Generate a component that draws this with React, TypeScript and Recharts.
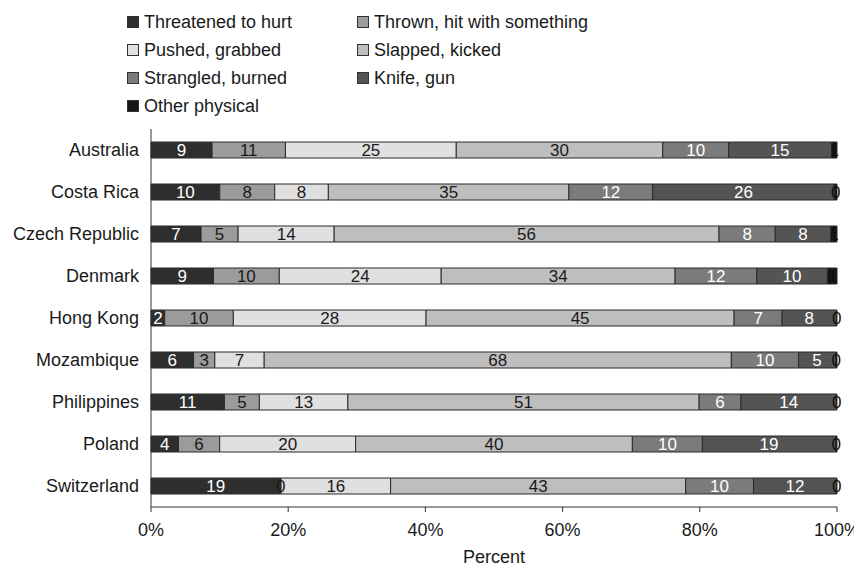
import { BarChart, Bar, XAxis, YAxis, Legend, LabelList } from "recharts";

// Share of each type of physical violence, by country (percent)
const countries = [
  "Australia",
  "Costa Rica",
  "Czech Republic",
  "Denmark",
  "Hong Kong",
  "Mozambique",
  "Philippines",
  "Poland",
  "Switzerland",
];
const threatened = [8.9, 10.0, 7.3, 9.1, 2.0, 6.2, 10.7, 4.0, 18.9];
const thrown = [10.7, 8.0, 5.4, 9.6, 10.0, 3.1, 5.1, 6.0, 0.1];
const pushed = [24.9, 7.8, 14.0, 23.6, 28.1, 7.2, 12.9, 19.8, 16.0];
const slapped = [30.1, 35.0, 56.1, 34.1, 44.9, 68.1, 51.2, 40.3, 43.1];
const strangled = [9.6, 12.2, 8.2, 11.9, 7.0, 9.8, 6.1, 10.2, 9.9];
const knife = [15.0, 26.4, 8.1, 10.3, 7.9, 5.4, 13.9, 19.4, 12.1];
const other = [0.8, 0.4, 0.9, 1.4, 0.1, 0.2, 0.1, 0.2, 0.1];

const xTicks = [0, 0.2, 0.4, 0.6, 0.8, 1];

const series = [
  { key: "threatened", name: "Threatened to hurt", fill: "#2e2e2e", text: "#ffffff" },
  { key: "thrown", name: "Thrown, hit with something", fill: "#9b9b9b", text: "#1a1a1a" },
  { key: "pushed", name: "Pushed, grabbed", fill: "#e0e0e0", text: "#1a1a1a" },
  { key: "slapped", name: "Slapped, kicked", fill: "#bebebe", text: "#1a1a1a" },
  { key: "strangled", name: "Strangled, burned", fill: "#7b7b7b", text: "#ffffff" },
  { key: "knife", name: "Knife, gun", fill: "#545454", text: "#ffffff" },
  { key: "other", name: "Other physical", fill: "#151515", text: "#111111" },
];

const data = countries.map((country, i) => ({
  country,
  threatened: threatened[i],
  thrown: thrown[i],
  pushed: pushed[i],
  slapped: slapped[i],
  strangled: strangled[i],
  knife: knife[i],
  other: other[i],
}));

const FONT = "'Liberation Sans', Arial, Helvetica, sans-serif";

// legend laid out in two columns like the original
function LegendGrid() {
  return (
    <div
      style={{
        display: "grid",
        gridTemplateColumns: "230px 300px",
        gridAutoRows: "28px",
        height: 112,
        marginLeft: 119,
        fontFamily: FONT,
        fontSize: 18,
        color: "#1a1a1a",
        textAlign: "left",
      }}
    >
      {series.map((s) => (
        <div key={s.key} style={{ display: "flex", alignItems: "center" }}>
          <span
            style={{
              width: 10,
              height: 10,
              background: s.fill,
              border: "1px solid #333",
              marginRight: 5,
              display: "inline-block",
            }}
          />
          <span>{s.name}</span>
        </div>
      ))}
    </div>
  );
}

export default function App() {
  return (
    <div style={{ width: 854, height: 561 }}>
      <BarChart
        width={854}
        height={561}
        data={data}
        layout="vertical"
        stackOffset="expand"
        barSize={16}
        margin={{ top: 9, right: 25, bottom: 22, left: 0 }}
      >
        <Legend
          verticalAlign="top"
          content={() => <LegendGrid />}
          wrapperStyle={{ top: 0, left: 0, width: 854, height: 112 }}
        />
        <XAxis
          type="number"
          domain={[0, 1]}
          ticks={xTicks}
          tickFormatter={(v: number) => `${Math.round(v * 100)}%`}
          stroke="#333"
          tickLine={{ stroke: "#333" }}
          tickSize={5}
          tick={{ fill: "#1a1a1a", fontSize: 18, fontFamily: FONT, dy: 9 }}
          height={40}
          label={{
            value: "Percent",
            position: "insideBottom",
            offset: -16,
            fill: "#1a1a1a",
            fontSize: 18,
            fontFamily: FONT,
          }}
        />
        <YAxis
          type="category"
          dataKey="country"
          width={143}
          stroke="#333"
          tickLine={false}
          tickMargin={6}
          tick={{ fill: "#1a1a1a", fontSize: 18, fontFamily: FONT }}
        />
        {series.map((s) => (
          <Bar
            key={s.key}
            dataKey={s.key}
            name={s.name}
            stackId="a"
            fill={s.fill}
            stroke="#2a2a2a"
            strokeWidth={1}
            isAnimationActive={false}
          >
            <LabelList
              dataKey={s.key}
              position="center"
              formatter={(v: any) => Math.round(Number(v))}
              fill={s.text}
              fontSize={17}
              fontFamily={FONT}
            />
          </Bar>
        ))}
      </BarChart>
    </div>
  );
}
